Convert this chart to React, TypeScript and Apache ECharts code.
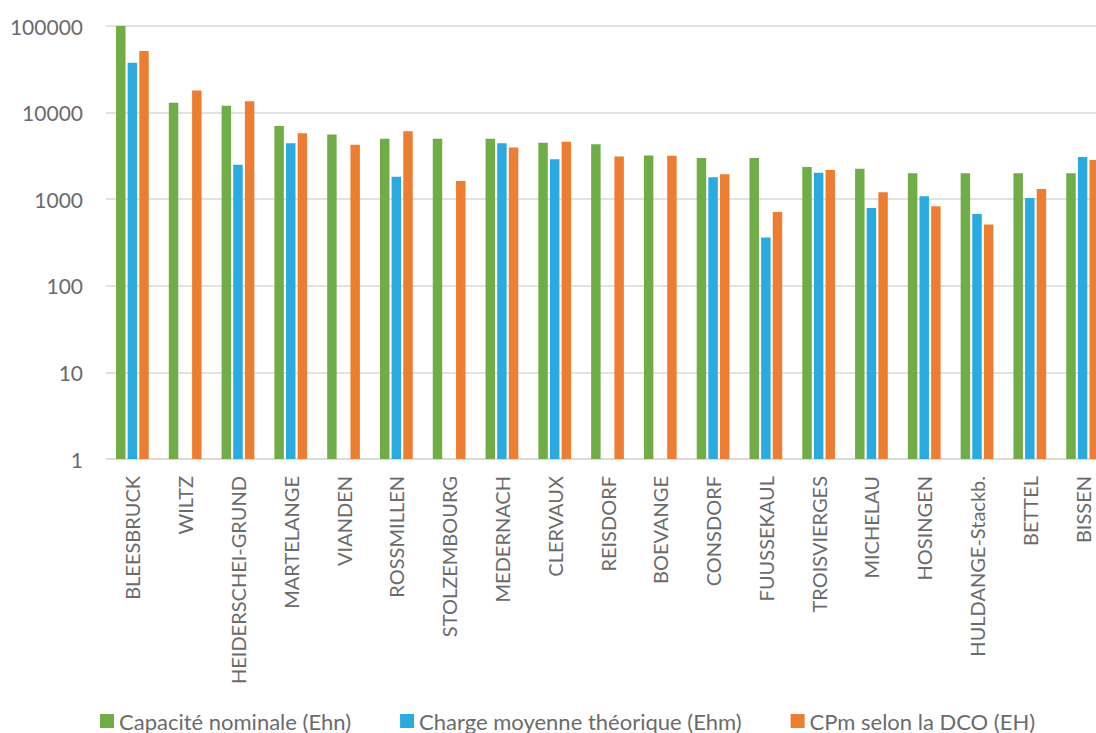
import React, { useEffect, useRef } from "react";
import * as echarts from "echarts";

const categories = [
  "BLEESBRUCK", "WILTZ", "HEIDERSCHEI-GRUND", "MARTELANGE", "VIANDEN", "ROSSMILLEN",
  "STOLZEMBOURG", "MEDERNACH", "CLERVAUX", "REISDORF", "BOEVANGE", "CONSDORF",
  "FUUSSEKAUL", "TROISVIERGES", "MICHELAU", "HOSINGEN", "HULDANGE-Stackb.", "BETTEL", "BISSEN",
];

const capaciteNominale = [
  100000, 13000, 12000, 7000, 5600, 5000, 5000, 5000, 4500, 4300, 3200, 3000,
  3000, 2350, 2250, 2000, 2000, 2000, 2000,
];

const chargeMoyenne = [
  37700, null, 2500, 4420, null, 1820, null, 4420, 2890, null, null, 1790,
  360, 2020, 790, 1080, 675, 1030, 3070,
];

const cpmDco = [
  51400, 18000, 13500, 5770, 4260, 6080, 1620, 3950, 4600, 3120, 3180, 1940,
  710, 2170, 1200, 830, 510, 1310, 2840,
];

const seriesNames = [
  "Capacité nominale (Ehn)",
  "Charge moyenne théorique (Ehm)",
  "CPm selon la DCO (EH)",
];

const colors = ["#70AD47", "#29ABE2", "#ED7D31"];

export default function App() {
  const ref = useRef<HTMLDivElement>(null);
  useEffect(() => {
    if (!ref.current) return;
    const chart = echarts.init(ref.current, null, { renderer: "svg" });
    const font = "Lato, 'Open Sans', sans-serif";
    const textColor = "#6b6b6b";
    chart.setOption({
      animation: false,
      color: colors,
      textStyle: { fontFamily: font },
      grid: { left: 106, top: 26, width: 1003, height: 433, containLabel: false },
      legend: {
        left: 100,
        top: 710,
        padding: 0,
        icon: "rect",
        itemWidth: 14,
        itemHeight: 14,
        itemGap: 49,
        textStyle: { fontSize: 22, color: textColor, fontFamily: font },
        data: seriesNames,
      },
      xAxis: {
        type: "category",
        data: categories,
        axisLine: { lineStyle: { color: "#d9d9d9", width: 1.5 } },
        axisTick: { show: false },
        axisLabel: {
          rotate: 90,
          interval: 0,
          fontSize: 20,
          color: textColor,
          fontFamily: font,
          margin: 17,
        },
      },
      yAxis: {
        type: "log",
        logBase: 10,
        min: 1,
        max: 100000,
        axisLine: { show: false },
        axisTick: { show: false },
        splitLine: { lineStyle: { color: "#d9d9d9", width: 1.5 } },
        axisLabel: {
          fontSize: 21,
          color: textColor,
          fontFamily: font,
          margin: 23,
          formatter: (v: number) => String(Math.round(v)),
        },
      },
      series: [
        { name: seriesNames[0], type: "bar", data: capaciteNominale, barGap: "23%", barCategoryGap: "38%" },
        { name: seriesNames[1], type: "bar", data: chargeMoyenne, barGap: "23%", barCategoryGap: "38%" },
        { name: seriesNames[2], type: "bar", data: cpmDco, barGap: "23%", barCategoryGap: "38%" },
      ],
    });
    return () => chart.dispose();
  }, []);
  return (
    <div
      style={{ position: "fixed", left: 0, top: 0, width: 1096, height: 733, overflow: "hidden", background: "#fff" }}
    >
      <div ref={ref} style={{ width: 1120, height: 733 }} />
    </div>
  );
}
